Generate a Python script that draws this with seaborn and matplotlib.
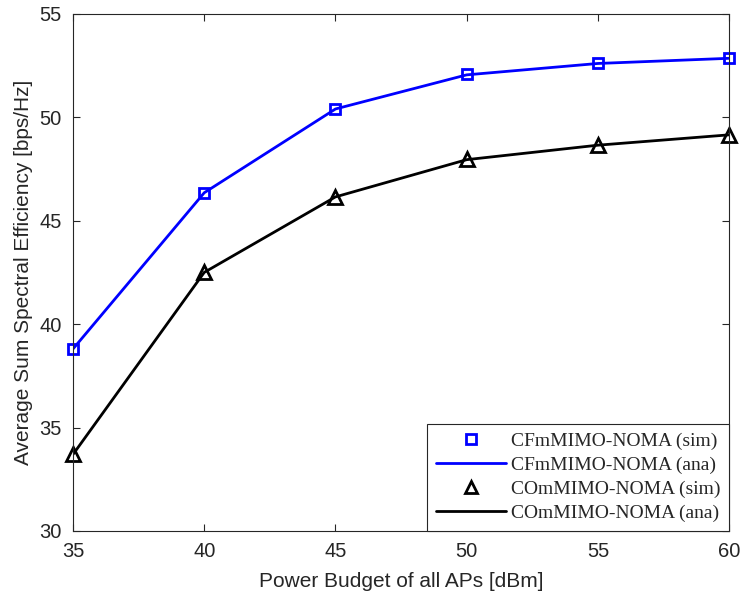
import matplotlib
matplotlib.use("Agg")
import matplotlib.pyplot as plt
import seaborn as sns
import pandas as pd
from matplotlib.lines import Line2D

power = [35, 40, 45, 50, 55, 60]
cf_sim = [38.8, 46.35, 50.4, 52.1, 52.6, 52.85]
cf_ana = [38.8, 46.35, 50.4, 52.05, 52.6, 52.85]
co_sim = [33.7, 42.5, 46.15, 48.0, 48.65, 49.15]
co_ana = [33.7, 42.5, 46.15, 47.95, 48.65, 49.15]

sns.set_style("ticks")
plt.rcParams['font.family'] = ['Liberation Sans', 'DejaVu Sans']

fig = plt.figure(figsize=(7.41, 6.01), dpi=100)
ax = fig.add_axes([0.0985, 0.1165, 0.8855, 0.8605])

df_cf = pd.DataFrame({"x": power, "sim": cf_sim, "ana": cf_ana})
df_co = pd.DataFrame({"x": power, "sim": co_sim, "ana": co_ana})

sns.lineplot(data=df_cf, x="x", y="ana", color="#0000ff", linewidth=2, ax=ax)
sns.lineplot(data=df_co, x="x", y="ana", color="black", linewidth=2, ax=ax)
ax.plot(df_cf["x"], df_cf["sim"], linestyle="none", marker="s", markersize=7.5,
        markerfacecolor="none", markeredgecolor="#0000ff", markeredgewidth=2, clip_on=False)
ax.plot(df_co["x"], df_co["sim"], linestyle="none", marker="^", markersize=10,
        markerfacecolor="none", markeredgecolor="black", markeredgewidth=2, clip_on=False)

ax.set_xlim(35, 60)
ax.set_ylim(30, 55)
ax.set_xticks(power)
ax.set_yticks([30, 35, 40, 45, 50, 55])
ax.tick_params(direction="in", top=True, right=True, labelsize=14.5, length=5,
               width=0.8, colors="#262626", pad=8)
for s in ax.spines.values():
    s.set_linewidth(0.8)
    s.set_color("#262626")
ax.set_xlabel("Power Budget of all APs [dBm]", fontsize=15, color="#262626", labelpad=8)
ax.set_ylabel("Average Sum Spectral Efficiency [bps/Hz]", fontsize=15, color="#262626", labelpad=5)

handles = [
    Line2D([], [], linestyle="none", marker="s", markersize=7, markerfacecolor="none",
           markeredgecolor="#0000ff", markeredgewidth=2),
    Line2D([], [], color="#0000ff", linewidth=2),
    Line2D([], [], linestyle="none", marker="^", markersize=9, markerfacecolor="none",
           markeredgecolor="black", markeredgewidth=2),
    Line2D([], [], color="black", linewidth=2),
]
labels = ["CFmMIMO-NOMA (sim)", "CFmMIMO-NOMA (ana)",
          "COmMIMO-NOMA (sim)", "COmMIMO-NOMA (ana)"]
leg = ax.legend(handles, labels, loc="lower right", borderaxespad=0,
                prop={"family": "Liberation Serif", "size": 14},
                fancybox=False, framealpha=1, edgecolor="#262626",
                handlelength=3.6, labelspacing=0.33, borderpad=0.45, handletextpad=0.25)
leg.get_frame().set_linewidth(0.8)

fig.savefig("out.png", dpi=100)
